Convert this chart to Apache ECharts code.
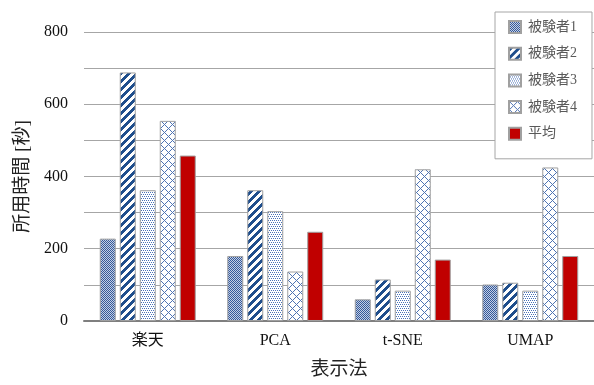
<!DOCTYPE html>
<html><head><meta charset="utf-8">
<script src="https://cdn.jsdelivr.net/npm/echarts@6/dist/echarts.min.js"></script>
<style>html,body{margin:0;padding:0;background:#fff}#c{width:594px;height:385px}</style>
</head><body><div id="c"></div>
<script>
const categories = ['楽天', 'PCA', 't-SNE', 'UMAP'];
const seriesNames = ['被験者1', '被験者2', '被験者3', '被験者4', '平均'];
const subject1 = [228, 180, 60, 101];
const subject2 = [688, 362, 115, 106];
const subject3 = [362, 304, 84, 84];
const subject4 = [554, 137, 420, 425];
const average = [458, 247, 170, 180];
const yTicks = [0, 200, 400, 600, 800];

function pattern(size, fn) {
  const c = document.createElement('canvas');
  c.width = size; c.height = size;
  const ctx = c.getContext('2d');
  ctx.fillStyle = '#ffffff'; ctx.fillRect(0, 0, size, size);
  for (let x = 0; x < size; x++) for (let y = 0; y < size; y++) {
    const col = fn(x, y);
    if (col) { ctx.fillStyle = col; ctx.fillRect(x, y, 1, 1); }
  }
  return { image: c, repeat: 'repeat' };
}
const pChecker = pattern(2, (x, y) => ((x + y) % 2 === 0 ? '#34599a' : '#c4cfe4'));
const pStripe = pattern(8, (x, y) => ((x + y) % 8 < 4 ? '#1f4e8c' : null));
const pDots = pattern(4, (x, y) => ((y === 0 && x % 2 === 0) || (y === 2 && x % 2 === 1) ? '#4a72b8' : null));
const pLattice = pattern(8, (x, y) => ((x + y) % 8 === 0 || (x - y + 8) % 8 === 0 ? '#4f74b3' : null));

const fills = [pChecker, pStripe, pDots, pLattice, '#c00000'];
const values = [subject1, subject2, subject3, subject4, average];
const FONT = "'Liberation Serif', 'Noto Sans CJK JP', serif";

const chart = echarts.init(document.getElementById('c'), null, { renderer: 'canvas' });
chart.setOption({
  animation: false,
  backgroundColor: '#fff',
  grid: { left: 84, right: -4, top: 32, bottom: 62, containLabel: false },
  legend: {
    orient: 'vertical', left: 495, top: 12,
    padding: [8, 15, 18, 13],
    icon: 'rect',
    itemWidth: 12, itemHeight: 12, itemGap: 12.7,
    backgroundColor: '#fff', borderColor: '#a6a6a6', borderWidth: 1,
    textStyle: { color: '#595959', fontSize: 14, lineHeight: 14, fontFamily: FONT, padding: [0, 0, 0, 2] },
    data: seriesNames
  },
  xAxis: {
    type: 'category', data: categories,
    name: '表示法', nameLocation: 'middle', nameGap: 40,
    nameTextStyle: { fontSize: 19, color: '#222', fontFamily: FONT },
    axisLine: { lineStyle: { color: '#7f7f7f', width: 2 } },
    axisTick: { show: false },
    axisLabel: { fontSize: 16, color: '#111', fontFamily: FONT, margin: 12 }
  },
  yAxis: {
    type: 'value', min: 0, max: 800, interval: 100,
    name: '所用時間 [秒]', nameLocation: 'middle', nameGap: 51,
    nameTextStyle: { fontSize: 19, color: '#222', fontFamily: FONT },
    axisLine: { show: false }, axisTick: { show: false },
    axisLabel: { fontSize: 16, color: '#111', fontFamily: FONT, margin: 16,
      formatter: v => (yTicks.indexOf(v) >= 0 ? String(v) : '') },
    splitLine: { lineStyle: { color: '#a6a6a6', width: 1 } }
  },
  series: seriesNames.map((n, i) => ({
    name: n, type: 'bar', data: values[i],
    barWidth: 16, barGap: '25%',
    itemStyle: { color: fills[i], borderColor: '#a0a0a0', borderWidth: 1 }
  }))
});
</script></body></html>
